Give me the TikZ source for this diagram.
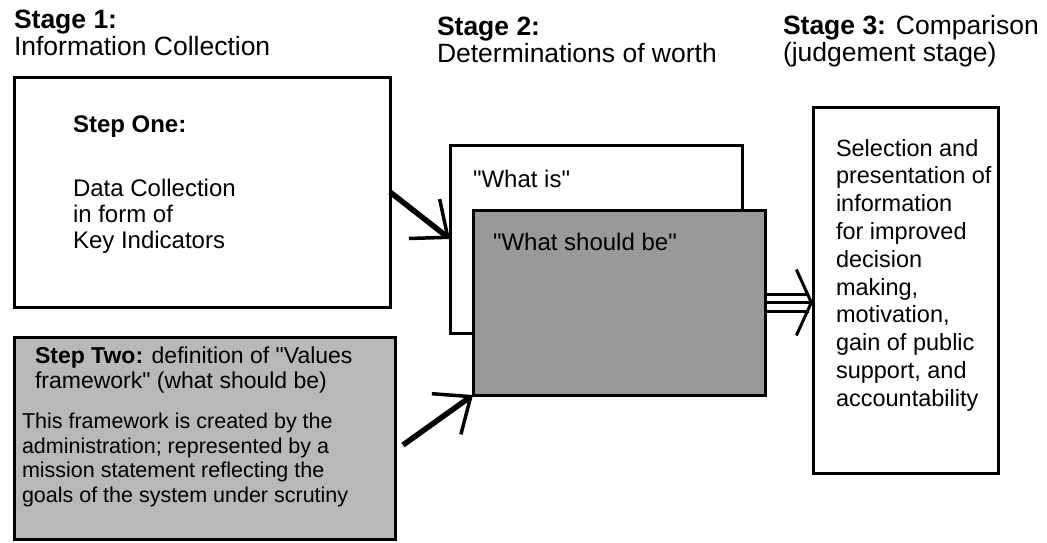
\documentclass[tikz,border=0pt]{standalone}
\usepackage{xcolor}
\usepackage{fontspec}
\setmainfont{Liberation Sans}[Ligatures=TeXOff]
\usepackage{tikz}
\usetikzlibrary{arrows.meta}

\begin{document}
\begin{tikzpicture}[x=1pt, y=-1pt]
		\tikzstyle{every node} = [inner sep=0pt, outer sep=0pt]
		\tikzstyle{stagebox} = [draw, line width=3pt, rectangle, anchor=north west]
		\tikzstyle{heading} = [anchor=north west, align=left, font=\fontsize{26.5}{27}\selectfont]
		\tikzstyle{boxtext} = [anchor=north west, align=left, font=\fontsize{24}{26}\selectfont]
		\tikzstyle{bigarrow} = [draw, line width=5.5pt, -{Straight Barb[length=30pt, width=50pt, line width=3.5pt]}]
		\tikzstyle{wideline} = [draw, line width=3pt]
		\useasboundingbox (0,0) rectangle (1047,542);
				\node[heading] (stageone) at (14,10) {\textbf{Stage 1:}\\Information Collection};
				\node[heading] (stagetwo) at (437,17) {\textbf{Stage 2:}\\Determinations of worth};
				\node[heading] (stagethree) at (783,15) {\textbf{Stage 3:} Comparison\\(judgement stage)};
				\node[stagebox, minimum width=376pt, minimum height=230pt] (info) at (14,77) {};
				\node[boxtext] (infotext) at (73,116)
					{\textbf{Step One:}\\[38pt]Data Collection\\in form of\\Key Indicators};
				\node[stagebox, fill=black!28, minimum width=381pt, minimum height=202pt] (values) at (14,337) {};
				\node[boxtext, font=\fontsize{23}{25}\selectfont] (valueshead) at (35,347)
					{\textbf{Step Two:} definition of "Values\\framework" (what should be)};
				\node[boxtext, font=\fontsize{21.5}{24.7}\selectfont] (valuesbody) at (22,413)
					{This framework is created by the\\administration; represented by a\\mission statement reflecting the\\goals of the system under scrutiny};
				\node[stagebox, fill=white, minimum width=292pt, minimum height=188pt] (whatis) at (450,145) {};
				\node[boxtext] (whatistext) at (473,170) {"What is"};
				\node[stagebox, fill=black!40, minimum width=292pt, minimum height=185pt] (should) at (473,210) {};
				\node[boxtext] (shouldtext) at (493,233) {"What should be"};
				\node[stagebox, minimum width=185pt, minimum height=366pt] (result) at (813,107) {};
				\node[boxtext, font=\fontsize{23.5}{27.8}\selectfont] (resulttext) at (836,139)
					{Selection and\\presentation of\\information\\for improved\\decision\\making,\\motivation,\\gain of public\\support, and\\accountability};
				\path[bigarrow] (info.east) -- (whatis.west);
				\path[bigarrow] ([xshift=8pt, yshift=-7pt]values.east) -- (should.south west);
				\coordinate (tip) at (should.east -| result.west);
				\path[wideline, -{Straight Barb[length=15pt, width=66pt, line width=3pt]}] (should.east) -- (tip);
				\path[wideline] ([yshift=8.5pt]should.east) -- ([yshift=8.5pt, xshift=-4pt]tip);
				\path[wideline] ([yshift=-8.5pt]should.east) -- ([yshift=-8.5pt, xshift=-4pt]tip);
	\end{tikzpicture}
\end{document}
